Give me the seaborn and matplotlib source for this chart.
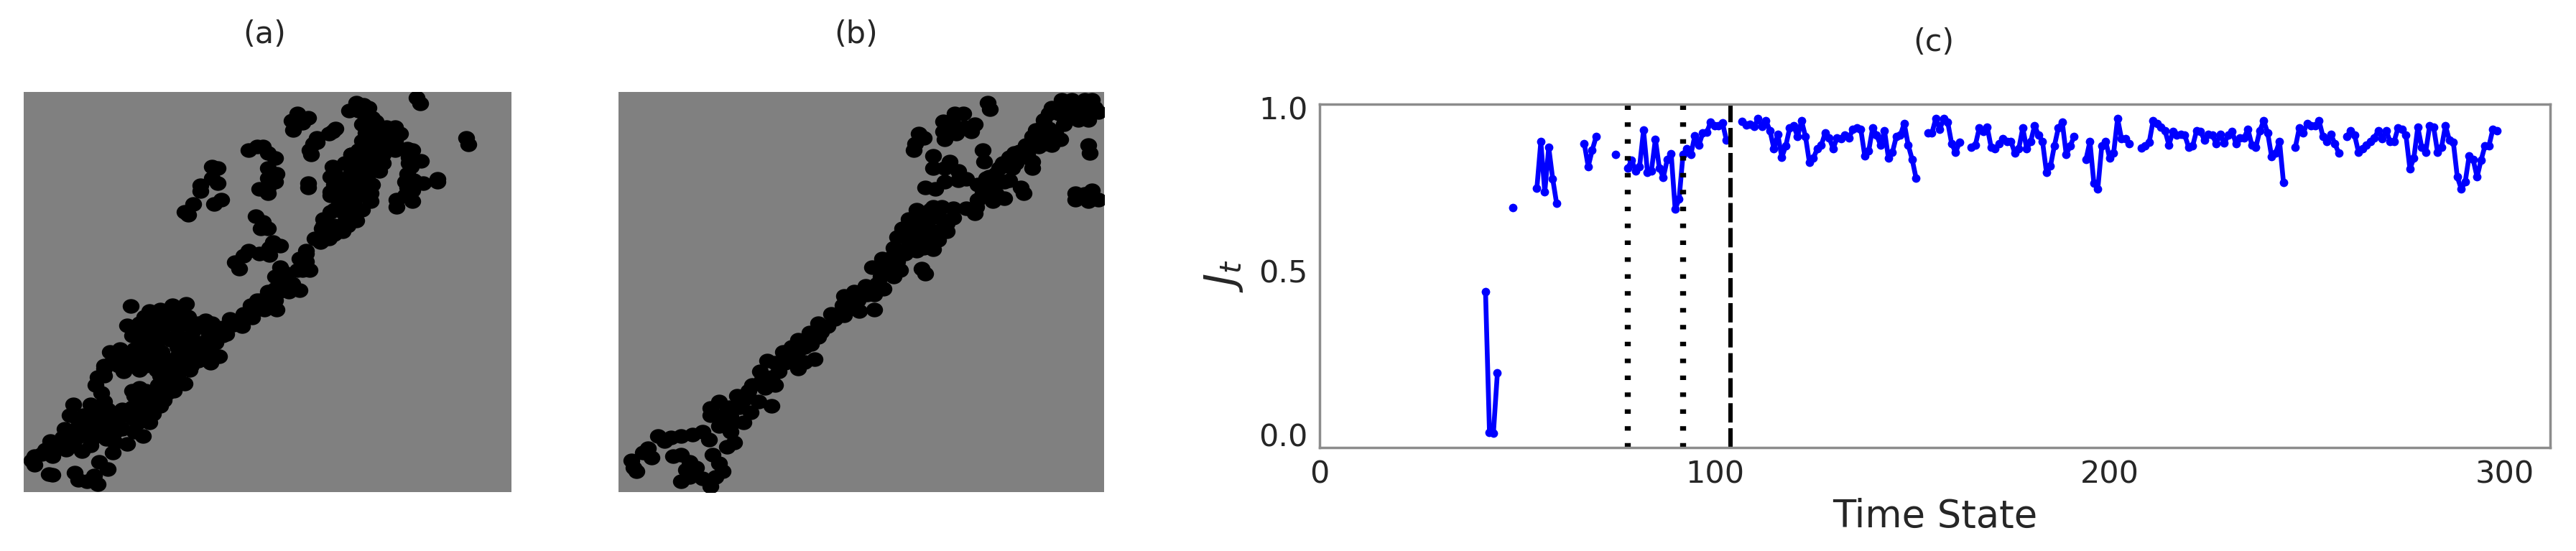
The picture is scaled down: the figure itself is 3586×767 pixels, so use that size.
"""Black cluster points on grey maps (a, b) and the J_t time series (c)."""
import matplotlib.pyplot as plt
import seaborn as sns
from matplotlib.markers import MarkerStyle
from matplotlib.transforms import Affine2D

sns.set_theme(style="white")
plt.rcParams["font.family"] = "DejaVu Sans"

W, H = 3587, 767

a_x = [1197, 1207, 1340, 1347, 1257, 1257, 1025, 1045, 1003, 1030, 1050, 1070, 1040, 1065, 1090, 1135, 1150, 1135,
       1090, 1060, 1040, 1075, 1110, 1135, 1030, 1065, 1090, 1185, 1210, 1175, 1180, 1100, 1070, 1030, 990, 955,
       1010, 1050, 950, 985, 1025, 1055, 1170, 1190, 1165, 1215, 1185, 950, 985, 1025, 1065, 1165, 1140, 1140, 1185,
       975, 1015, 1065, 985, 1020, 950, 930, 1025, 990, 985, 950, 925, 945, 925, 905,
       855, 885, 838, 870, 842, 955, 965, 945, 910, 900, 890, 893, 910, 740, 715, 755, 770, 790, 770, 795, 770, 790,
       770, 745, 770, 610, 625, 610, 625, 575, 575, 615, 635, 555, 530, 540, 885, 885, 735, 755, 770, 750, 785, 805,
       775, 715, 745, 775, 675, 688, 700, 805, 815, 790, 825, 860, 880, 880, 860, 890, 855,
       770, 800, 830, 750, 790, 795, 760, 720, 700, 725, 695, 660, 640, 650,
       535, 495, 460, 375, 415, 365, 450, 500, 540, 590, 615, 420, 465, 510, 555, 600, 400, 445, 490, 530, 580, 620,
       345, 315, 385, 425, 465, 545, 590, 630, 605, 320, 360, 400, 440, 485, 530, 570,
       300, 280, 275, 355, 400, 450, 500, 545, 490, 530, 455, 400, 290, 385, 430, 480, 380, 425, 460,
       300, 260, 210, 200, 240, 280, 350, 310, 400, 440, 430, 395, 185, 225, 270, 310, 350, 385, 410, 180, 220, 265,
       305, 365, 330, 145, 190, 235, 325, 120, 150, 90, 100, 140, 150, 285, 310, 215, 225, 250, 270, 280,
       430, 480, 520, 400, 440, 490, 530, 570, 610, 380, 430, 470, 510, 550, 600, 640, 410, 450, 510, 560, 600,
       340, 380, 420, 460, 510, 550, 600, 340, 380, 420, 460, 510, 550, 300, 300, 460, 510, 420, 460, 500, 380,
       400, 440, 470, 220, 260, 300, 340, 380, 210, 250, 290, 330, 170, 210, 260,
       1010, 1050, 1100, 960, 1090, 960, 1000, 1040, 1070, 950, 1000, 1040, 960, 1000, 1040, 1000, 960, 930, 960, 920,
       880, 870, 840, 810, 790, 770, 740, 700, 670, 740, 830,
       1060, 1080, 1110, 1120, 1100, 1050, 1010, 1170, 1175, 1170, 100, 130, 165, 200]
a_y = [92, 115, 240, 262, 390, 400, 110, 118, 140, 140, 165, 165, 190, 190, 200, 200, 225, 250,
       230, 225, 250, 260, 255, 285, 285, 290, 295, 285, 322, 310, 345, 330, 340, 320, 330, 345,
       360, 350, 380, 390, 390, 385, 370, 395, 400, 405, 430, 435, 430, 430, 440, 450, 465, 490, 470,
       470, 470, 470, 510, 510, 510, 535, 540, 545, 580, 560, 570, 605, 615, 605,
       150, 165, 178, 185, 210, 215, 205, 225, 240, 260, 285, 300, 255, 270, 285, 270, 295, 313, 350, 370, 385, 400,
       420, 425, 440, 345, 350, 385, 405, 412, 432, 480, 465, 480, 510, 520, 405, 420, 525, 545, 570, 570, 620, 632,
       640, 650, 660, 665, 693, 715, 670, 710, 730, 745, 760, 795, 660, 690, 680, 720, 720,
       800, 800, 780, 830, 830, 865, 865, 850, 880, 895, 925, 900, 930, 955,
       845, 850, 865, 853, 890, 922, 900, 890, 890, 905, 925, 940, 940, 930, 940, 950, 975, 980, 975, 980, 985, 985,
       1010, 1020, 1010, 1020, 1020, 1020, 1020, 1035, 1060, 1060, 1050, 1050, 1055, 1050, 1055, 1050,
       1080, 1110, 1140, 1090, 1085, 1085, 1090, 1085, 1125, 1135, 1140, 1150, 1170, 1180, 1175, 1170,
       1220, 1215, 1215,
       1200, 1210, 1210, 1250, 1250, 1240, 1230, 1230, 1250, 1245, 1275, 1280, 1300, 1290, 1290, 1290, 1300, 1310,
       1327, 1330, 1330, 1335,
       1335, 1355, 1350, 1345, 1375, 1380, 1385, 1390, 1400, 1415, 1430, 1465, 1468, 1420, 1445, 1460, 1485, 1490,
       1470, 1500,
       870, 870, 870, 915, 915, 915, 915, 915, 915, 960, 960, 960, 960, 960, 960, 960, 1000, 1000, 1000, 1000, 1000,
       1035, 1035, 1035, 1035, 1035, 1035, 1035, 1070, 1070, 1070, 1070, 1070, 1070, 1070, 1105, 1105, 1105, 1160,
       1160, 1160, 1160,
       1195, 1195, 1195, 1260, 1260, 1260, 1260, 1260, 1310, 1310, 1310, 1310, 1360, 1360, 1360,
       300, 300, 300, 360, 360, 410, 410, 410, 410, 450, 450, 450, 500, 500, 500, 560, 560, 560, 590, 620,
       650, 720, 770, 770, 790, 830, 860, 890, 920, 830, 800,
       130, 180, 200, 240, 280, 220, 300, 280, 330, 420, 1400, 1375, 1360, 1345]

# Panel (b): black point centres, read the same way
b_x = [1165, 1172, 1470, 1475, 1430, 1430, 1460, 1480, 1500, 1470, 1150, 1155, 1300, 1300, 965, 975,
       1065, 1090, 1030, 1125, 1060, 1095, 1030, 1115, 1035, 1070, 955, 970, 945, 940,
       1390, 1420, 1480, 1360, 1400, 1445, 1490, 1500, 1350, 1420, 1470, 1440, 1395, 1335, 1310, 1350, 1370, 1345,
       1385, 1310, 1360, 1280, 1320, 1245, 1285, 1210, 1250, 1265,
       1000, 1050, 1000, 1035, 1075, 1100, 1035, 1075, 975, 1005, 1160, 1190, 1135, 1175, 1215, 1265, 1230, 1275,
       1150, 1180, 1215, 1135,
       1100, 1125, 1060, 1025, 950, 1020, 1060, 985, 925, 905, 950, 990, 1040, 890, 930, 970, 1015, 1000, 950, 880,
       845, 915, 815, 860, 900, 880, 840, 795, 850, 820, 730, 770, 725, 820, 775, 730, 690, 650, 680, 625, 650, 590,
       630, 545, 590, 640, 590, 610, 550, 495, 475, 530, 520, 450, 490, 405, 440, 470, 510, 410, 445, 325, 350, 325,
       385, 425, 350, 385, 395, 375, 300, 320, 270, 235, 205, 165, 185, 135, 120, 145,
       85, 90, 100, 210, 235, 260, 280, 250, 235, 260, 330, 350, 360, 340, 300, 325,
       1440, 1460, 1380, 1420, 1460, 1330, 1300, 1340, 1260, 1230, 1200, 1240, 1170, 1150, 1190, 1130,
       1000, 960, 1000, 990, 920, 960, 1010, 1040, 880, 920, 970, 860, 890, 840, 830, 800, 760, 760, 700, 660,
       610, 610, 570, 570, 520, 510, 480, 440, 420, 380, 390, 360]
b_y = [110, 135, 265, 295, 440, 465, 445, 430, 465, 470, 285, 325, 325, 350, 715, 735,
       150, 150, 180, 190, 190, 200, 215, 215, 245, 225, 225, 240, 260, 285,
       100, 100, 100, 130, 130, 130, 130, 145, 150, 165, 175, 175, 190, 175, 210, 205, 220, 235,
       245, 245, 265, 265, 270, 295, 300, 330, 330, 310,
       305, 325, 350, 350, 360, 390, 400, 395, 420, 425, 385, 370, 410, 410, 400, 420, 395, 440,
       440, 470, 460, 465,
       495, 515, 495, 490, 500, 530, 530, 540, 535, 570, 575, 580, 580, 600, 610, 610, 610, 645, 650, 665,
       680, 660, 712, 710, 720, 745, 745, 780, 790, 810, 815, 830, 850, 865, 870, 885, 880, 915, 925, 950, 965, 975,
       990, 1020, 1015, 1045, 1080, 1055, 1060, 1050, 1090, 1090, 1140, 1140, 1150, 1180, 1185, 1200, 1215, 1220,
       1240, 1225, 1200, 1250,
       1255, 1275, 1290, 1310, 1350, 1365, 1310, 1340, 1320, 1325, 1330, 1325, 1345, 1370, 1385, 1405,
       1415, 1440, 1455, 1400, 1395, 1420, 1440, 1450, 1490, 1475, 1395, 1425, 1455, 1475, 1480, 1510,
       110, 100, 150, 140, 150, 200, 235, 260, 290, 310, 350, 350, 380, 410, 440, 490,
       490, 530, 510, 500, 590, 590, 580, 550, 640, 640, 640, 690, 690, 710, 770, 810, 800, 860, 900, 945,
       975, 1000, 1000, 1040, 1060, 1110, 1120, 1160, 1200, 1220, 1280, 1250]

# Panel (c): J_t, one list per unbroken run, with the time state each run starts at
seg_starts = [42, 49, 55, 67, 75, 78, 107, 154, 165, 194, 208, 247, 260]
seg_values = [
    [.437, .007, .005, .188],
    [.695],
    [.754, .896, .742, .879, .783, .707],
    [.89, .82, .87, .911],
    [.858],
    [.816, .839, .807, .82, .931, .803, .807, .904, .816, .787, .841, .86, .69, .72, .858, .875, .858, .915, .885,
     .923, .925, .956, .945, .945, .953, .90],
    [.959, .947, .95, .942, .967, .942, .96, .93, .875, .918, .848, .883, .938, .945, .912, .96, .912, .832, .846,
     .875, .886, .923, .908, .875, .908, .905, .916, .908, .934, .938, .934, .853, .868, .938, .916, .886, .93, .846,
     .864, .912, .916, .952, .886, .842, .784],
    [.923, .923, .967, .934, .967, .956, .89, .864, .894],
    [.879, .886, .938, .927, .941, .879, .875, .89, .905, .897, .897, .861, .875, .938, .875, .897, .945, .916, .897,
     .802, .821, .883, .938, .956, .857, .883, .912],
    [.842, .897, .769, .752, .883, .897, .846, .861, .967, .905, .905, .89],
    [.877, .883, .894, .96, .952, .941, .93, .886, .927, .916, .919, .916, .879, .883, .93, .927, .901, .919, .916,
     .89, .919, .892, .916, .927, .89, .908, .908, .934, .886, .879, .93, .96, .923, .85, .861, .897, .771],
    [.879, .938, .923, .952, .945, .945, .96, .912, .897, .919, .89, .861],
    [.912, .93, .916, .864, .875, .886, .897, .908, .93, .905, .93, .897, .897, .938, .934, .916, .813, .846, .941,
     .879, .864, .945, .941, .864, .879, .945, .901, .894, .788, .752, .773, .853, .842, .788, .839, .883, .883, .934,
     .93],
]
dotted_states = [78, 92]
dashed_state = 104
x_ticks = [0, 100, 200, 300]
y_ticks = [0.0, 0.5, 1.0]


def pixel_axes(fig, left, top, right, bottom):
    return fig.add_axes([left / W, 1 - bottom / H, (right - left) / W, (bottom - top) / H])


def draw_map(ax, xs, ys, xlim, ylim):
    ax.set_facecolor("#808080")
    blob = MarkerStyle("o", transform=Affine2D().scale(1.15, 1.0))
    sns.scatterplot(x=xs, y=ys, ax=ax, color="black", s=215, marker=blob, linewidth=0, legend=False)
    ax.set_xlim(*xlim)
    ax.set_ylim(*ylim)
    ax.set_xticks([])
    ax.set_yticks([])
    sns.despine(ax=ax, left=True, bottom=True)


fig = plt.figure(figsize=(W / 100, H / 100), dpi=100)

ax_a = pixel_axes(fig, 33, 128, 712, 685)
draw_map(ax_a, a_x, a_y, (68, 1470), (1530, 72))
ax_b = pixel_axes(fig, 861, 128, 1537, 685)
draw_map(ax_b, b_x, b_y, (45, 1518), (1530, 72))

ax_c = pixel_axes(fig, 1837, 145, 3550, 623)
for start, values in zip(seg_starts, seg_values):
    states = list(range(start, start + len(values)))
    sns.lineplot(x=states, y=values, ax=ax_c, color="#0000ff", linewidth=4.8, marker="o",
                 markersize=8.5, markeredgewidth=0, legend=False)
for state in dotted_states:
    ax_c.axvline(state, color="black", linewidth=6, linestyle=(0, (0.75, 2.07)))
ax_c.axvline(dashed_state, color="black", linewidth=4.4, linestyle=(0, (4.4, 1.3)))

ax_c.set_xlim(0, 311.5)
ax_c.set_ylim(-0.04, 1.011)
ax_c.set_xticks(x_ticks)
ax_c.set_yticks(y_ticks)
ax_c.tick_params(axis="both", labelsize=31, length=6, width=1.5, color="#666666", labelcolor="#262626", pad=6)
ax_c.set_xlabel("Time State", fontsize=38, color="#262626", labelpad=8)
ax_c.set_ylabel(r"$J_t$", fontsize=42, color="#262626", labelpad=14)
for spine in ax_c.spines.values():
    spine.set_color("#8c8c8c")
    spine.set_linewidth(2.5)

fig.text(368 / W, 1 - 48 / H, "(a)", fontsize=31, color="#262626", ha="center", va="center")
fig.text(1192 / W, 1 - 48 / H, "(b)", fontsize=31, color="#262626", ha="center", va="center")
fig.text(2692 / W, 1 - 59 / H, "(c)", fontsize=31, color="#262626", ha="center", va="center")

fig.savefig("out.png", dpi=100, facecolor="white")
